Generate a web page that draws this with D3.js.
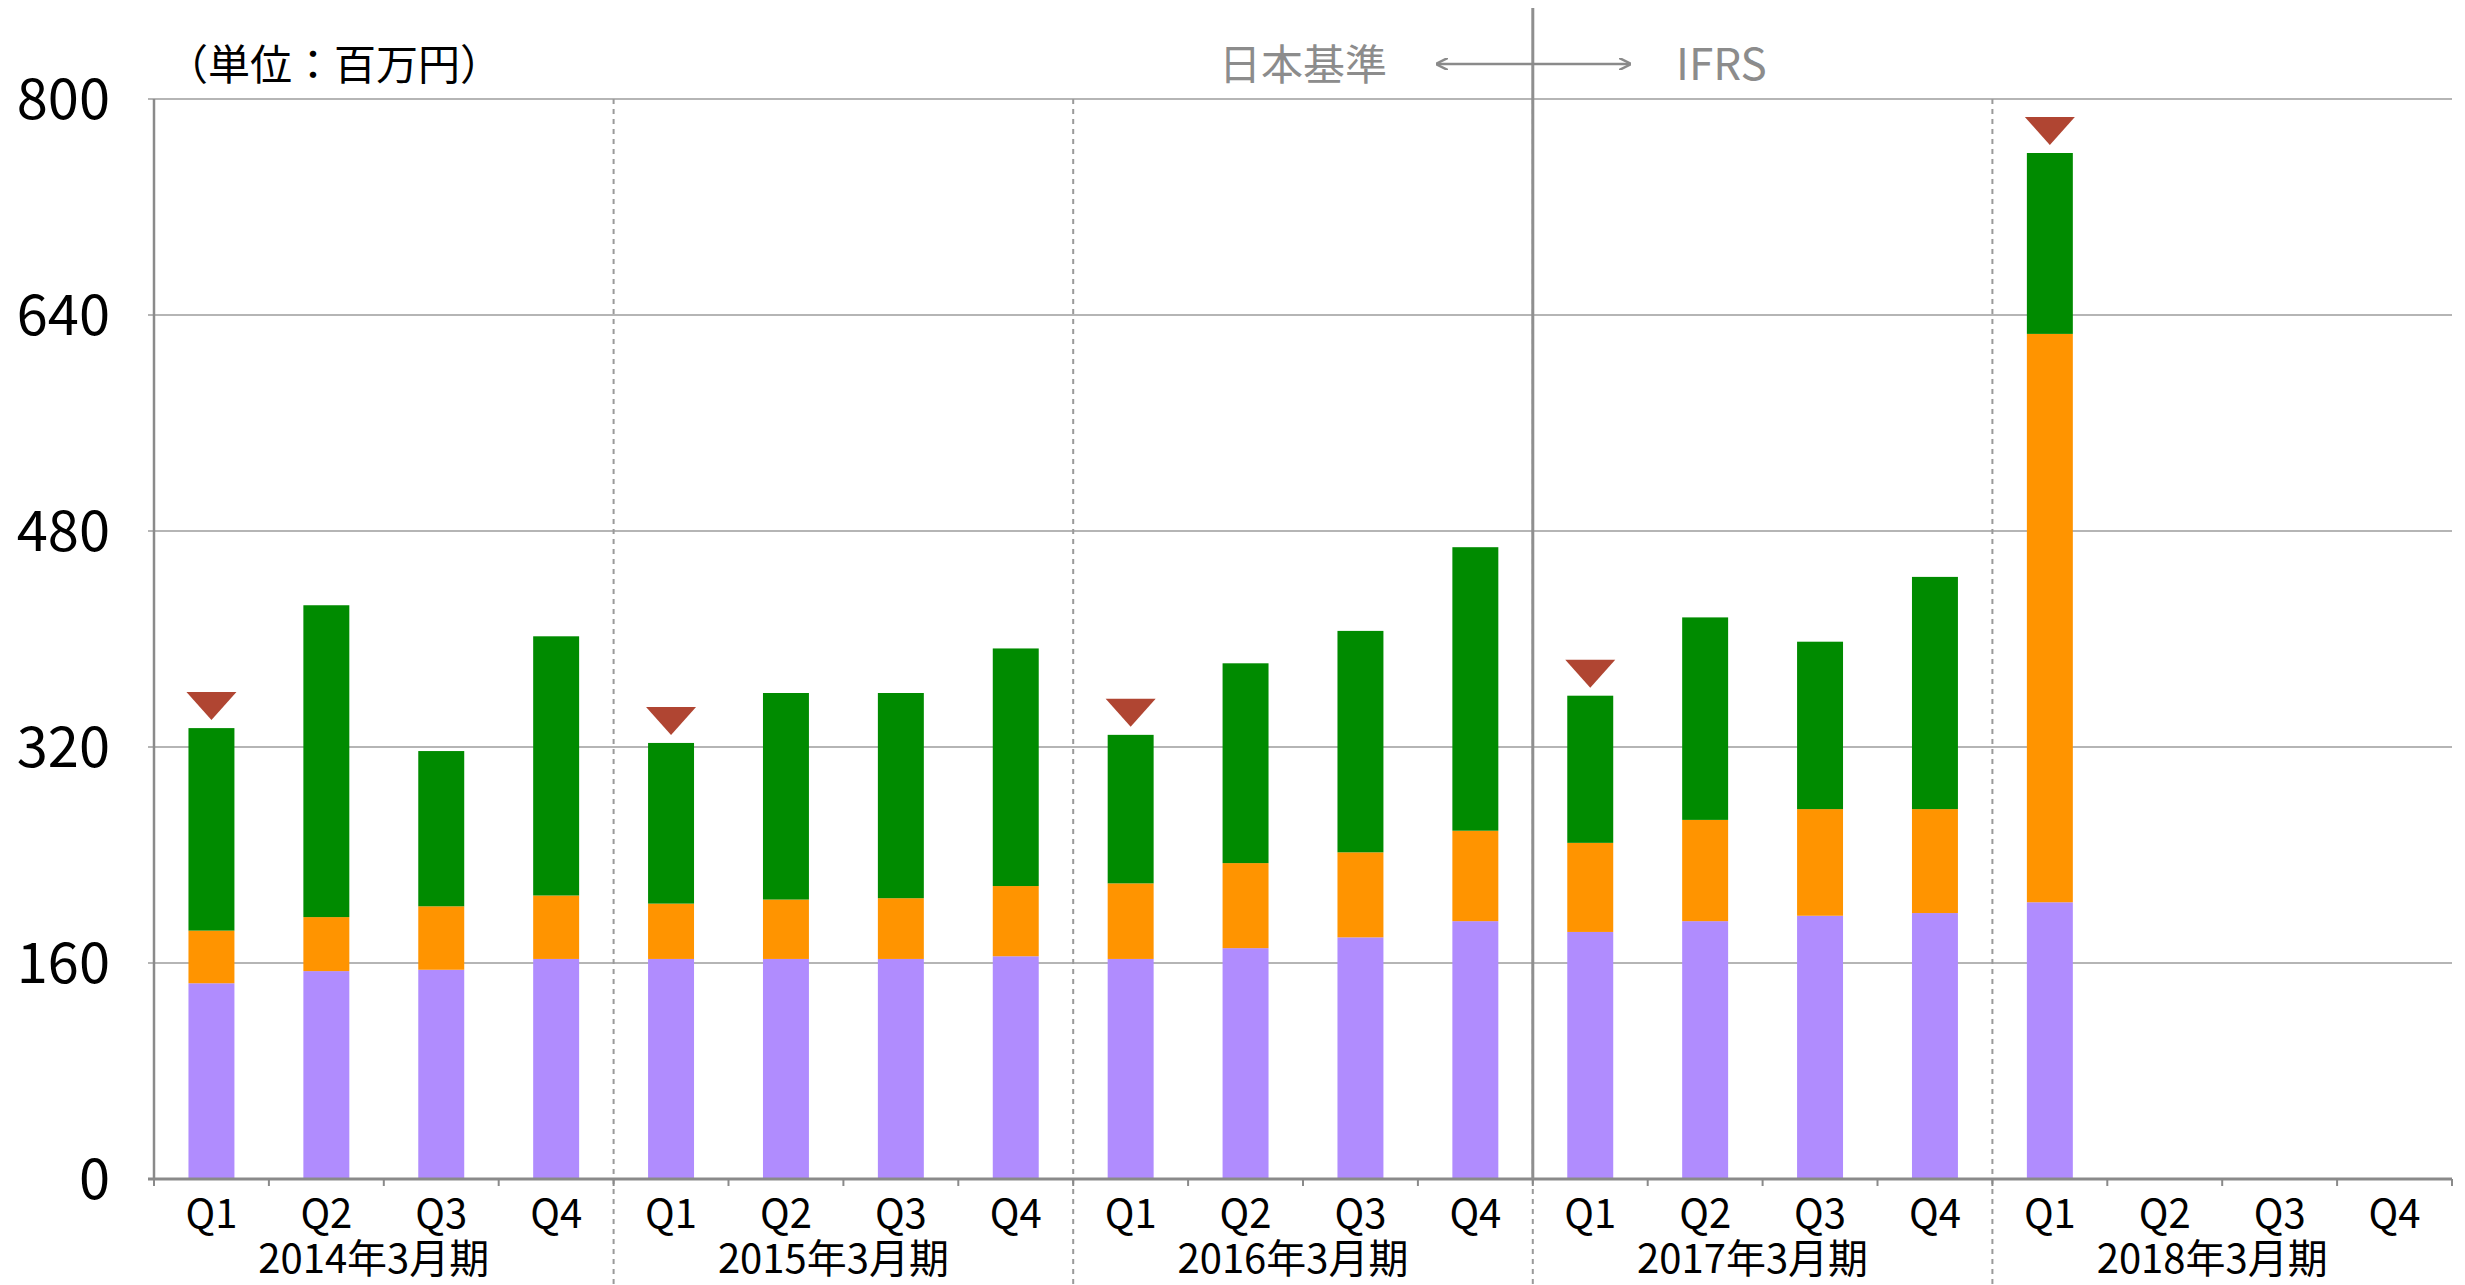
<!DOCTYPE html>
<html>
<head>
<meta charset="utf-8">
<script src="https://cdn.jsdelivr.net/npm/d3@7"></script>
<style>
  body { margin: 0; background: #fff; }
  text { font-family: "Noto Sans CJK JP", "Noto Sans", sans-serif; }
</style>
</head>
<body>
<div id="chart"></div>
<script>
// quarters and fiscal years
var quarters = ["Q1", "Q2", "Q3", "Q4"];
var years = ["2014年3月期", "2015年3月期", "2016年3月期", "2017年3月期", "2018年3月期"];

// stacked values (百万円), 20 quarters, 2018 Q2-Q4 not yet reported
var purpleVals = [145, 154, 155, 163, 163, 163, 163, 165, 163, 171, 179, 191, 183, 191, 195, 197, 205, 0, 0, 0];
var orangeVals = [39, 40, 47, 47, 41, 44, 45, 52, 56, 63, 63, 67, 66, 75, 79, 77, 421, 0, 0, 0];
var greenVals  = [150, 231, 115, 192, 119, 153, 152, 176, 110, 148, 164, 210, 109, 150, 124, 172, 134, 0, 0, 0];

// quarters with the red marker above the bar
var markerIdx = [0, 4, 8, 12, 16];

var yTicks = [0, 160, 320, 480, 640, 800];

var W = 2465, H = 1285;
var plotL = 154, plotR = 2452, plotT = 99, plotB = 1179;

var rows = [];
for (var i = 0; i < purpleVals.length; i++) {
  rows.push({ i: i, q: quarters[i % 4], purple: purpleVals[i], orange: orangeVals[i], green: greenVals[i] });
}

var svg = d3.select("#chart").append("svg")
  .attr("width", W).attr("height", H);

var x = d3.scaleBand()
  .domain(rows.map(function(d) { return d.i; }))
  .range([plotL, plotR])
  .paddingInner(0.6)
  .paddingOuter(0.3);

var y = d3.scaleLinear().domain([0, 800]).range([plotB, plotT]);

var step = x.step();
function edge(k) { return plotL + k * step; }

// grid lines
svg.append("g").selectAll("line")
  .data(yTicks.filter(function(t) { return t > 0; }))
  .enter().append("line")
  .attr("x1", plotL - 6).attr("x2", plotR)
  .attr("y1", function(d) { return y(d); })
  .attr("y2", function(d) { return y(d); })
  .attr("stroke", "#b5b5b5").attr("stroke-width", 2);

// fiscal year dividers
svg.append("g").selectAll("line")
  .data([4, 8, 12, 16])
  .enter().append("line")
  .attr("x1", function(k) { return edge(k); })
  .attr("x2", function(k) { return edge(k); })
  .attr("y1", plotT).attr("y2", H)
  .attr("stroke", "#9a9a9a").attr("stroke-width", 2)
  .attr("stroke-dasharray", "5,5");

// stacked bars
var keys = ["purple", "orange", "green"];
var colors = { purple: "#b08cfe", orange: "#ff9400", green: "#008b00" };
var series = d3.stack().keys(keys)(rows);

svg.append("g").selectAll("g")
  .data(series)
  .enter().append("g")
  .attr("fill", function(s) { return colors[s.key]; })
  .selectAll("rect")
  .data(function(s) { return s.filter(function(d) { return d[1] > d[0]; }); })
  .enter().append("rect")
  .attr("x", function(d) { return x(d.data.i); })
  .attr("width", x.bandwidth())
  .attr("y", function(d) { return y(d[1]); })
  .attr("height", function(d) { return y(d[0]) - y(d[1]); });

// markers above bars
svg.append("g").selectAll("path")
  .data(markerIdx)
  .enter().append("path")
  .attr("fill", "#b04532")
  .attr("d", function(i) {
    var cx = x(i) + x.bandwidth() / 2;
    var tot = purpleVals[i] + orangeVals[i] + greenVals[i];
    var yb = y(tot) - 8;
    return "M" + (cx - 25) + "," + (yb - 28) + "L" + (cx + 25) + "," + (yb - 28) + "L" + cx + "," + yb + "Z";
  });

// y axis
svg.append("line")
  .attr("x1", plotL).attr("x2", plotL).attr("y1", plotT).attr("y2", plotB)
  .attr("stroke", "#8a8a8a").attr("stroke-width", 2.5);

svg.append("g").selectAll("text")
  .data(yTicks)
  .enter().append("text")
  .attr("x", 110)
  .attr("y", function(d) { return y(d) + 20; })
  .attr("text-anchor", "end")
  .attr("font-size", 56)
  .attr("fill", "#000")
  .text(function(d) { return d; });

// x axis
svg.append("line")
  .attr("x1", plotL - 6).attr("x2", plotR).attr("y1", plotB).attr("y2", plotB)
  .attr("stroke", "#8a8a8a").attr("stroke-width", 3);

svg.append("g").selectAll("line")
  .data(d3.range(0, 21))
  .enter().append("line")
  .attr("x1", function(k) { return edge(k); })
  .attr("x2", function(k) { return edge(k); })
  .attr("y1", plotB).attr("y2", plotB + 7)
  .attr("stroke", "#8a8a8a").attr("stroke-width", 2);

svg.append("g").selectAll("text")
  .data(rows)
  .enter().append("text")
  .attr("x", function(d) { return x(d.i) + x.bandwidth() / 2; })
  .attr("y", 1228)
  .attr("text-anchor", "middle")
  .attr("font-size", 40)
  .text(function(d) { return d.q; });

svg.append("g").selectAll("text")
  .data(years)
  .enter().append("text")
  .attr("x", function(d, g) { return edge(g * 4 + 2) - 10; })
  .attr("y", 1273)
  .attr("text-anchor", "middle")
  .attr("font-size", 40)
  .text(function(d) { return d; });

// accounting standard switch
svg.append("line")
  .attr("x1", edge(12)).attr("x2", edge(12)).attr("y1", 8).attr("y2", plotB)
  .attr("stroke", "#8f8f8f").attr("stroke-width", 3);

svg.append("defs").append("marker")
  .attr("id", "ah").attr("viewBox", "0 0 10 10")
  .attr("refX", 9).attr("refY", 5)
  .attr("markerWidth", 5).attr("markerHeight", 5)
  .attr("orient", "auto-start-reverse")
  .append("path").attr("d", "M0,0L10,5L0,10").attr("fill", "none")
  .attr("stroke", "#8a8a8a").attr("stroke-width", 2);

svg.append("line")
  .attr("x1", 1437).attr("x2", 1630).attr("y1", 64).attr("y2", 64)
  .attr("stroke", "#8a8a8a").attr("stroke-width", 2.5)
  .attr("marker-start", "url(#ah)").attr("marker-end", "url(#ah)");

svg.append("text")
  .attr("x", 1387).attr("y", 80)
  .attr("text-anchor", "end").attr("font-size", 42).attr("fill", "#8c8c8c")
  .text("日本基準");

svg.append("text")
  .attr("x", 1676).attr("y", 80)
  .attr("font-size", 44).attr("fill", "#8c8c8c")
  .text("IFRS");

svg.append("text")
  .attr("x", 166).attr("y", 80)
  .attr("font-size", 42).attr("fill", "#000")
  .text("（単位：百万円）");
</script>
</body>
</html>
